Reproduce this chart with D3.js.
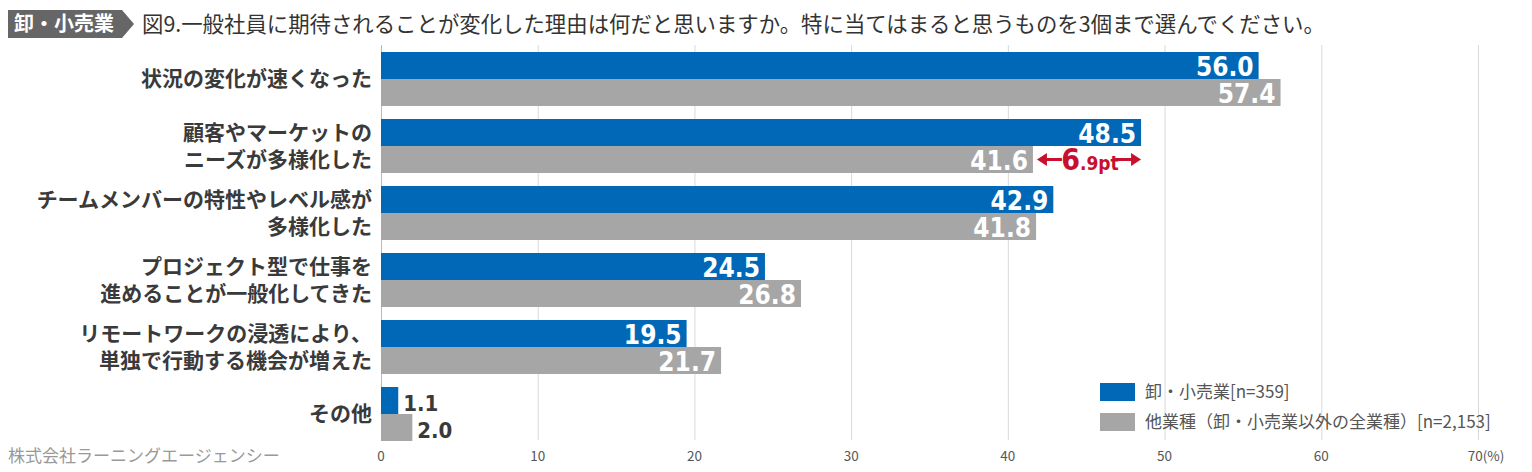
<!DOCTYPE html>
<html lang="ja">
<head>
<meta charset="UTF-8">
<title>図9</title>
<script src="https://d3js.org/d3.v7.min.js"></script>
<style>
	body{margin:0;background:#fff}
	svg{display:block}
	.jp{font-family:"Noto Sans CJK JP","Noto Sans",sans-serif}
	.num{font-family:"DejaVu Sans Condensed","DejaVu Sans",sans-serif;font-stretch:condensed;font-weight:bold}
</style>
</head>
<body>
<svg id="chart" width="1532" height="472"></svg>
<script>
// data
var categories = [
	["状況の変化が速くなった"],
	["顧客やマーケットの", "ニーズが多様化した"],
	["チームメンバーの特性やレベル感が", "多様化した"],
	["プロジェクト型で仕事を", "進めることが一般化してきた"],
	["リモートワークの浸透により、", "単独で行動する機会が増えた"],
	["その他"]
]
var retail = [56.0, 48.5, 42.9, 24.5, 19.5, 1.1]
var others = [57.4, 41.6, 41.8, 26.8, 21.7, 2.0]
var ticks = [0, 10, 20, 30, 40, 50, 60, 70]
var seriesNames = ["卸・小売業[n=359]", "他業種（卸・小売業以外の全業種）[n=2,153]"]
var colors = ["#0068b7", "#a6a6a6"]

var svg = d3.select("#chart")

var x = d3.scaleLinear().domain([0, 70]).range([381, 1478])
var y = d3.scaleBand().domain(d3.range(categories.length)).range([52, 441]).paddingInner(13/67).paddingOuter(0)
var barH = 27

// grid
svg.append("g").selectAll("line").data(ticks).enter().append("line")
	.attr("x1", function(d){return x(d)+0.5}).attr("x2", function(d){return x(d)+0.5})
	.attr("y1", 45).attr("y2", 440)
	.attr("stroke", function(d){return d===0 ? "#bbb" : "#d9d9d9"}).attr("stroke-width", 1)

// tick labels
svg.append("g").selectAll("text").data(ticks).enter().append("text")
	.attr("class", "jp")
	.attr("x", function(d){return x(d)}).attr("y", 461)
	.attr("text-anchor", "middle").attr("font-size", 13.5).attr("fill", "#555")
	.text(function(d){return d===70 ? "70(%)" : d})
	.attr("dx", function(d){return d===70 ? 8 : 0})

// bars
var g = svg.append("g")
categories.forEach(function(c, i){
	var y0 = Math.round(y(i))
	var vals = [retail[i], others[i]]
	vals.forEach(function(v, j){
		var yy = y0 + j*barH
		g.append("rect").attr("x", x(0)).attr("y", yy)
			.attr("width", x(v)-x(0)).attr("height", barH).attr("fill", colors[j])
		var inside = v > 5
		g.append("text").attr("class", "num")
			.attr("x", inside ? x(v)-5 : x(v)+5).attr("y", yy+barH/2+10)
			.attr("text-anchor", inside ? "end" : "start")
			.attr("font-size", inside ? 26 : 22)
			.attr("fill", inside ? "#fff" : "#3a3a3a")
			.text(v.toFixed(1))
	})
	// category label
	var t = g.append("text").attr("class", "jp")
		.attr("x", 372).attr("text-anchor", "end")
		.attr("font-size", 21).attr("font-weight", "bold").attr("fill", "#3a3a3a")
	var mid = y0 + barH
	var n = c.length
	c.forEach(function(line, k){
		t.append("tspan").attr("x", 372)
			.attr("y", mid + 7 + (k - (n-1)/2)*27)
			.text(line)
	})
})

// difference annotation
var red = "#c8102e"
var ay = Math.round(y(1)) + barH + barH/2
var ax1 = x(others[1]) + 4, ax2 = x(retail[1])
var ann = svg.append("g")
ann.append("line").attr("x1", ax1+6).attr("x2", ax1+25).attr("y1", ay).attr("y2", ay).attr("stroke", red).attr("stroke-width", 3)
ann.append("path").attr("d", "M"+ax1+","+ay+"l10,-6.5v13z").attr("fill", red)
ann.append("line").attr("x1", ax2-26).attr("x2", ax2-7).attr("y1", ay).attr("y2", ay).attr("stroke", red).attr("stroke-width", 3)
ann.append("path").attr("d", "M"+ax2+","+ay+"l-10,-6.5v13z").attr("fill", red)
var at = ann.append("text").attr("class", "num").attr("x", (ax1+ax2)/2 + 1).attr("y", ay+10)
	.attr("text-anchor", "middle").attr("fill", red)
at.append("tspan").attr("font-size", 30).text("6")
at.append("tspan").attr("font-size", 19).text(".9pt")

// legend
var lg = svg.append("g")
seriesNames.forEach(function(s, i){
	lg.append("rect").attr("x", 1100).attr("y", 383 + i*30).attr("width", 35).attr("height", 18).attr("fill", colors[i])
	lg.append("text").attr("class", "jp").attr("x", 1145).attr("y", 398 + i*30)
		.attr("font-size", 17).attr("fill", "#555").text(s)
})

// title tag
svg.append("path").attr("d", "M8,10H122L134,24L122,38H8Z").attr("fill", "#666")
svg.append("text").attr("class", "jp").attr("x", 14).attr("y", 31)
	.attr("font-size", 20).attr("font-weight", "bold").attr("fill", "#fff").text("卸・小売業")
svg.append("text").attr("class", "jp").attr("x", 142).attr("y", 32)
	.attr("font-size", 21.4).attr("fill", "#333")
	.text("図9.一般社員に期待されることが変化した理由は何だと思いますか。特に当てはまると思うものを3個まで選んでください。")

// footer
svg.append("text").attr("class", "jp").attr("x", 8).attr("y", 462)
	.attr("font-size", 17).attr("fill", "#999").text("株式会社ラーニングエージェンシー")
</script>
</body>
</html>
